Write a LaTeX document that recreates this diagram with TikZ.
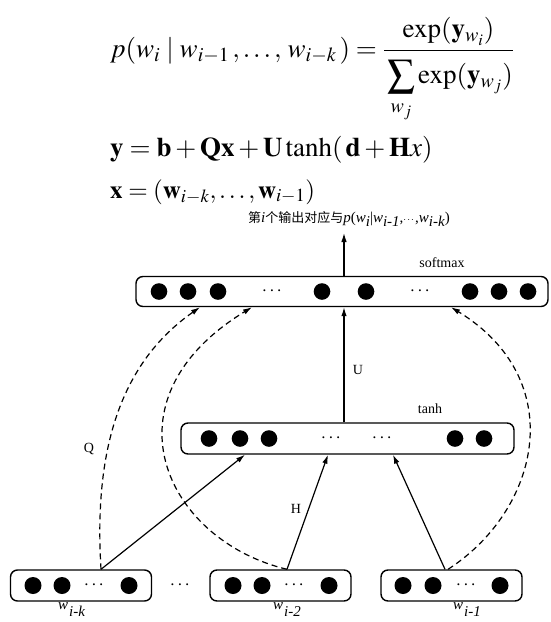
\documentclass[tikz,border=0pt]{standalone}
\usepackage{amsmath}
\usepackage{mathptmx}
\usepackage[no-math]{fontspec}
\setmainfont{Liberation Serif}
\newfontfamily\cjk{Noto Sans CJK SC}
\usepackage{tikz}
\usetikzlibrary{arrows.meta}

\newcommand{\wlab}[1]{\textit{w}\kern1pt\raisebox{-7pt}{\textit{#1}}}

\begin{document}
\begin{tikzpicture}[x=1pt,y=-1pt,
  layer/.style={draw,line width=1.4pt,rounded corners=7pt,inner sep=0pt,minimum height=30pt},
  arr/.style={line width=1.2pt,-{Latex[length=9pt,width=5.5pt]}},
  darr/.style={arr,dash pattern=on 6pt off 4pt},
  lbl/.style={font=\fontsize{14}{16}\selectfont,inner sep=0pt},
  dots/.style={font=\fontsize{19}{20}\selectfont,inner sep=0pt},
  eq/.style={anchor=base west,inner sep=0pt,font=\fontsize{27}{30}\selectfont}]
  \useasboundingbox (0,0) rectangle (550,622);
  % formulas
  \node[eq] (f1) at (110,57)
    {$p(w_i\mid w_{i-1}\,,\ldots,\,w_{i-k}\,)=\dfrac{\exp(\mathbf{y}_{w_i})\rule[-9pt]{0pt}{0pt}}{\rule{0pt}{29pt}\mathop{\raisebox{-4pt}{\scalebox{1.45}{$\sum$}}}\limits_{\rule{0pt}{14pt}w_j}\exp(\mathbf{y}_{w_j})}$};
  \node[eq] (f2) at (110,156)
    {$\mathbf{y}=\mathbf{b}+\mathbf{Qx}+\mathbf{U}\tanh(\,\mathbf{d}+\mathbf{H}x)$};
  \node[eq,font=\fontsize{25}{30}\selectfont] (f3) at (110,198)
    {$\mathbf{x}=(\mathbf{w}_{i-k},\ldots,\mathbf{w}_{i-1})$};
  \node[anchor=base west,inner sep=0pt,font=\fontsize{15}{16}\selectfont] (cap) at (248,222)
    {{\cjk\fontsize{13}{16}\selectfont 第}\textit{i}{\cjk\fontsize{13}{16}\selectfont 个输出对应与}\textit{p}(\textit{w}\raisebox{-4pt}{\textit{i}}|\textit{w}\raisebox{-4pt}{\textit{i-1}},{\fontsize{10}{10}\selectfont$\cdots$},\textit{w}\raisebox{-4pt}{\textit{i-k}})};
  % layers
  \node[layer,minimum width=412pt] (soft) at (342,291.5) {};
  \node[layer,minimum width=333pt,minimum height=31pt] (hid) at (347.5,438.5) {};
  \node[layer,minimum width=141pt,minimum height=31pt] (in1) at (81,585.5) {};
  \node[layer,minimum width=141pt,minimum height=31pt] (in2) at (280.5,585.5) {};
  \node[layer,minimum width=141pt,minimum height=31pt] (in3) at (451.5,585.5) {};
  \foreach \x in {159,188,218,322,366,470,499,528}
    \fill (\x,291.5) circle (8.3pt);
  \foreach \x in {209,240,269,455,484}
    \fill (\x,438.5) circle (8.3pt);
  \foreach \x in {33,62,129,233,262,329,403,433,500}
    \fill (\x,585.5) circle (8.5pt);
  \node[dots] (d1) at (273,291.5) {$\cdots$};
  \node[dots] (d2) at (421,291.5) {$\cdots$};
  \node[dots] (d3) at (332,438.5) {$\cdots$};
  \node[dots] (d4) at (383,438.5) {$\cdots$};
  \node[dots] (d5) at (95,585.5) {$\cdots$};
  \node[dots] (d6) at (295,585.5) {$\cdots$};
  \node[dots] (d7) at (467,585.5) {$\cdots$};
  \node[dots] (d8) at (181,585.5) {$\cdots$};
  % labels
  \node[lbl] (lsoft) at (442,263) {softmax};
  \node[lbl] (ltanh) at (430,409) {tanh};
  \node[lbl] (lU) at (358,370) {U};
  \node[lbl] (lQ) at (89,449) {Q};
  \node[lbl] (lH) at (296,509) {H};
  \node[lbl,anchor=base west,font=\fontsize{15}{16}\selectfont] (w1) at (58,609) {\wlab{i-k}};
  \node[lbl,anchor=base west,font=\fontsize{15}{16}\selectfont] (w2) at (273,609) {\wlab{i-2}};
  \node[lbl,anchor=base west,font=\fontsize{15}{16}\selectfont] (w3) at (453,609) {\wlab{i-1}};
  % connections
  \coordinate (outp) at (344,233);
  \draw[arr] ([xshift=2pt]soft.north) -- (outp);
  \draw[arr] ([xshift=-3.5pt]hid.north) -- ([xshift=2pt]soft.south);
  \draw[arr] ([xshift=20pt]in1.north) -- ([xshift=-102.5pt]hid.south);
  \draw[arr] ([xshift=6.5pt]in2.north) -- ([xshift=-19.5pt]hid.south);
  \draw[arr] ([xshift=-6.5pt]in3.north) -- ([xshift=45.5pt]hid.south);
  \draw[darr] ([xshift=20pt]in1.north) .. controls (95,470) and (110,370) .. ([xshift=-142pt]soft.south);
  \draw[darr] ([xshift=6.5pt]in2.north) .. controls (165,540) and (100,400) .. ([xshift=-90pt]soft.south);
  \draw[darr] ([xshift=-3.5pt]in3.north) .. controls (540,510) and (570,380) .. ([xshift=109pt]soft.south);
\end{tikzpicture}
\end{document}
